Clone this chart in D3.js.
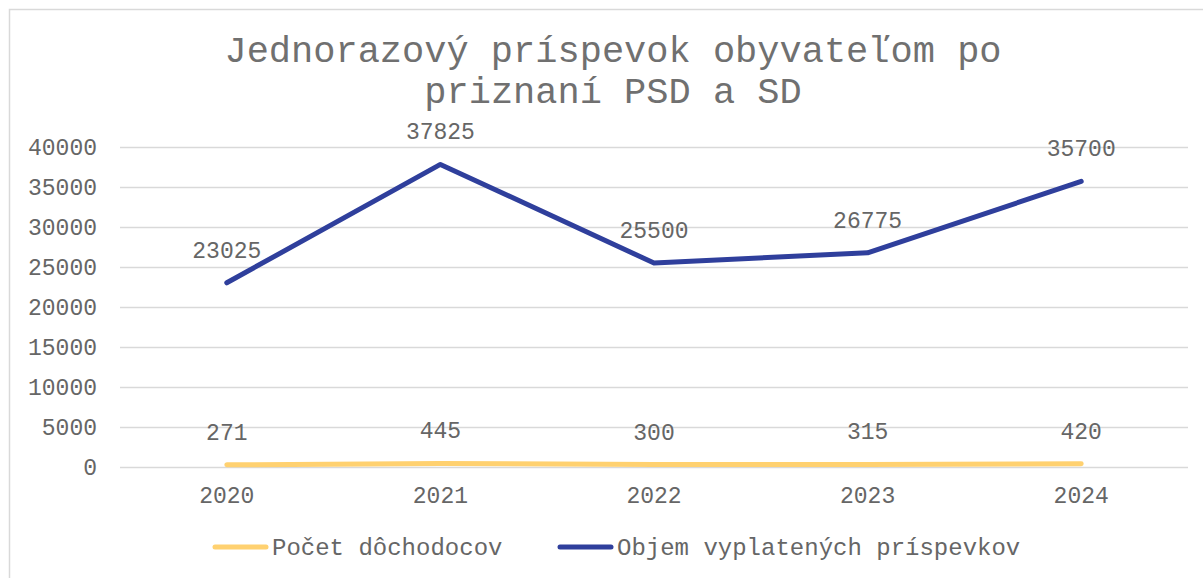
<!DOCTYPE html>
<html><head><meta charset="utf-8">
<script src="https://cdn.jsdelivr.net/npm/d3@7"></script>
<style>html,body{margin:0;padding:0;background:#fff;overflow:hidden}</style>
</head><body>
<svg id="chart" width="1203" height="578"></svg>
<script>
const categories = ["2020","2021","2022","2023","2024"];
const pocetDochodcov = [271,445,300,315,420];
const objemPrispevkov = [23025,37825,25500,26775,35700];
const yTicks = [0,5000,10000,15000,20000,25000,30000,35000,40000];
const seriesNames = ["Počet dôchodocov","Objem vyplatených príspevkov"];
const titleLines = ["Jednorazový príspevok obyvateľom po","priznaní PSD a SD"];

const svg = d3.select("#chart");
const font = "'Liberation Mono','Courier New',monospace";
const textColor = "#666666";
const colors = ["#FFD170","#2F3F9C"];

svg.append("rect").attr("x",9.5).attr("y",9.5).attr("width",1200).attr("height",600)
  .attr("fill","#fff").attr("stroke","#d9d9d9").attr("stroke-width",1.5);

const x = d3.scaleBand().domain(categories).range([120,1188]);
const y = d3.scaleLinear().domain([0,40000]).range([467,147]);

// title
svg.append("g").selectAll("text").data(titleLines).join("text")
  .attr("x",613).attr("y",(d,i)=>62+i*41)
  .attr("text-anchor","middle").attr("font-family",font).attr("font-size",37)
  .attr("fill","#707070").text(d=>d);

// gridlines
const yAxis = d3.axisLeft(y).tickValues(yTicks).tickSize(-(1188-120)).tickPadding(23).tickFormat(d=>String(d));
const gy = svg.append("g").attr("transform","translate(120,0)").call(yAxis);
gy.select(".domain").remove();
gy.selectAll(".tick line").attr("stroke","#d9d9d9").attr("stroke-width",1.5);
gy.selectAll(".tick text").attr("font-family",font).attr("font-size",23).attr("fill",textColor).attr("dy","0.32em");

const xAxis = d3.axisBottom(x).tickSize(0).tickPadding(20);
const gx = svg.append("g").attr("transform","translate(0,467)").call(xAxis);
gx.select(".domain").remove();
gx.selectAll(".tick text").attr("font-family",font).attr("font-size",23).attr("fill",textColor);

const cx = d=>x(d)+x.bandwidth()/2;
const line = d3.line().x((d,i)=>cx(categories[i])).y(d=>y(d));

[pocetDochodcov, objemPrispevkov].forEach((vals,si)=>{
  svg.append("path").datum(vals).attr("d",line).attr("fill","none")
    .attr("stroke",colors[si]).attr("stroke-width",5).attr("stroke-linecap","round").attr("stroke-linejoin","round");
});
[pocetDochodcov, objemPrispevkov].forEach((vals,si)=>{
  svg.append("g").selectAll("text").data(vals).join("text")
    .attr("x",(d,i)=>cx(categories[i])).attr("y",d=>y(d)-25)
    .attr("text-anchor","middle").attr("font-family",font).attr("font-size",23)
    .attr("fill",textColor).text(d=>d);
});

// legend
const legX = [213,558];
const lg = svg.append("g").selectAll("g").data(seriesNames).join("g")
  .attr("transform",(d,i)=>`translate(${legX[i]},547)`);
lg.append("line").attr("x1",2).attr("x2",53).attr("y1",0).attr("y2",0)
  .attr("stroke",(d,i)=>colors[i]).attr("stroke-width",5).attr("stroke-linecap","round");
lg.append("text").attr("x",59).attr("y",8).attr("font-family",font).attr("font-size",24)
  .attr("fill",textColor).text(d=>d);
</script>
</body></html>
